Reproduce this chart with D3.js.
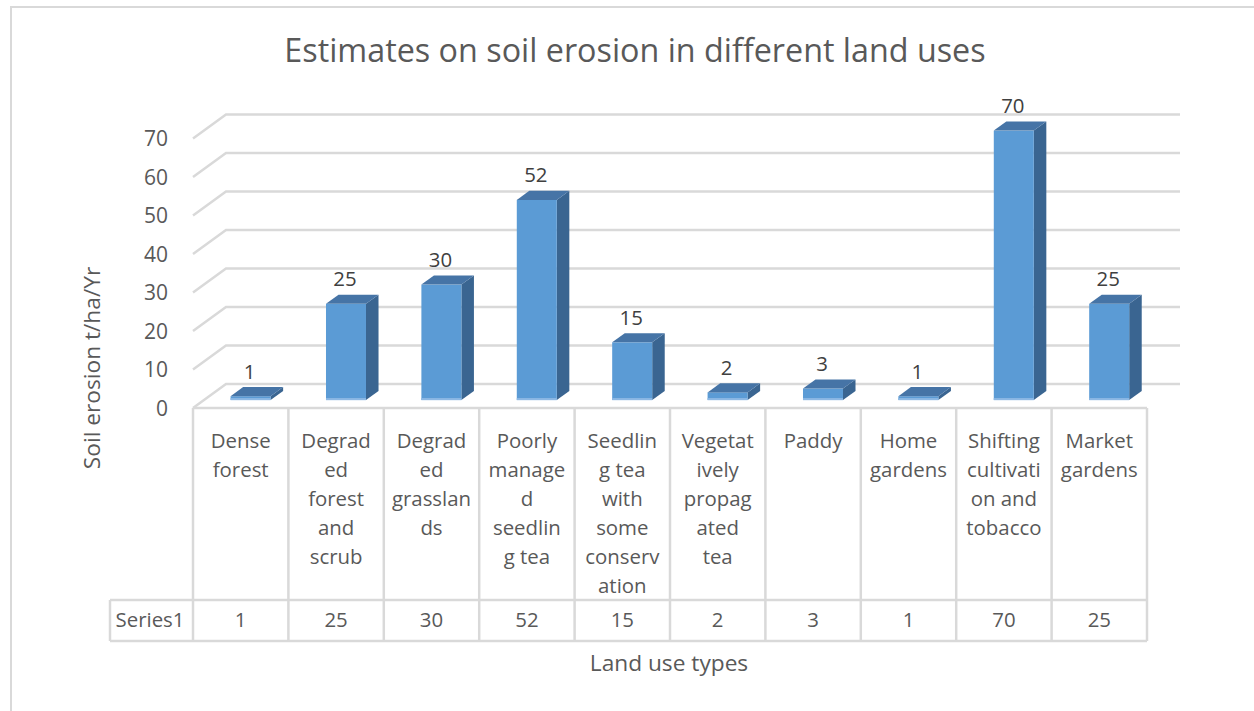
<!DOCTYPE html>
<html>
<head>
<meta charset="utf-8">
<script src="https://cdn.jsdelivr.net/npm/d3@7/dist/d3.min.js"></script>
<style>
  html, body { margin: 0; padding: 0; background: #ffffff; }
  svg { display: block; font-family: "Open Sans", "Noto Sans", sans-serif; }
</style>
</head>
<body>
<svg id="chart" width="1254" height="711"></svg>
<script>
// Land use categories, as wrapped in the data-table header cells
const categories = [
  "Dense forest",
  "Degraded forest and scrub",
  "Degraded grasslands",
  "Poorly managed seedling tea",
  "Seedling tea with some conservation",
  "Vegetatively propagated tea",
  "Paddy",
  "Home gardens",
  "Shifting cultivation and tobacco",
  "Market gardens"
];
const categoryLines = [
  ["Dense", "forest"],
  ["Degrad", "ed", "forest", "and", "scrub"],
  ["Degrad", "ed", "grasslan", "ds"],
  ["Poorly", "manage", "d", "seedlin", "g tea"],
  ["Seedlin", "g tea", "with", "some", "conserv", "ation"],
  ["Vegetat", "ively", "propag", "ated", "tea"],
  ["Paddy"],
  ["Home", "gardens"],
  ["Shifting", "cultivati", "on and", "tobacco"],
  ["Market", "gardens"]
];
// Soil erosion, t/ha/yr
const series1 = [1, 25, 30, 52, 15, 2, 3, 1, 70, 25];
const seriesName = "Series1";
const yTicks = [0, 10, 20, 30, 40, 50, 60, 70];

const chartTitle = "Estimates on soil erosion in different land uses";
const yTitle = "Soil erosion t/ha/Yr";
const xTitle = "Land use types";

const svg = d3.select("#chart");
const textColor = "#595959";
const lineColor = "#d9d9d9";

// plot geometry (front plane of the 3-D box)
const left = 193, right = 1147, floorY = 408;
const DX = 33, DY = -24;          // oblique offset for full depth
const z0 = 0.33, z1 = 0.71;       // bar depth span as fraction of box depth

const x = d3.scaleBand().domain(categories).range([left, right]).padding(0);
const y = d3.scaleLinear().domain([0, 70]).range([floorY, floorY - 269.5]);

// outer chart-area border
svg.append("rect")
  .attr("x", 11).attr("y", 7).attr("width", 1260).attr("height", 720)
  .attr("fill", "none").attr("stroke", lineColor).attr("stroke-width", 2);

// title
svg.append("text")
  .attr("x", 635).attr("y", 62)
  .attr("text-anchor", "middle")
  .attr("font-size", 32.3).attr("fill", textColor)
  .text(chartTitle);

// gridlines: slanted side-wall part and back-wall part
const grid = svg.append("g").attr("stroke", lineColor).attr("stroke-width", 2.5).attr("fill", "none");
yTicks.forEach(t => {
  const yf = y(t);
  grid.append("path")
    .attr("d", `M${left},${yf}L${left + DX},${yf + DY}L${right + DX},${yf + DY}`);
});

// tick labels
svg.append("g").selectAll("text").data(yTicks).join("text")
  .attr("x", 168).attr("y", d => y(d))
  .attr("dy", "0.36em")
  .attr("text-anchor", "end")
  .attr("font-size", 21).attr("fill", textColor)
  .text(d => d);

// bars as 3-D boxes
const barW = 40;
const ddx = DX * (z1 - z0), ddy = DY * (z1 - z0);
const bars = svg.append("g");
categories.forEach((c, i) => {
  const v = series1[i];
  const x0 = x(c) + x.bandwidth() / 2 - barW / 2 + DX * z0 - 1;
  const x1 = x0 + barW;
  const yb = y(0) + DY * z0;
  const yt = y(v) + DY * z0;
  const g = bars.append("g");
  // side face
  g.append("path")
    .attr("d", `M${x1},${yt}L${x1 + ddx},${yt + ddy}L${x1 + ddx},${yb + ddy}L${x1},${yb}Z`)
    .attr("fill", "#3a6591");
  // front face
  g.append("rect")
    .attr("x", x0).attr("y", yt).attr("width", barW).attr("height", yb - yt)
    .attr("fill", "#5b9bd5");
  // lighter base edge
  g.append("rect")
    .attr("x", x0).attr("y", yb - 2).attr("width", barW).attr("height", 2)
    .attr("fill", "#8db8e4");
  // top face
  g.append("path")
    .attr("d", `M${x0},${yt}L${x1},${yt}L${x1 + ddx},${yt + ddy}L${x0 + ddx},${yt + ddy}Z`)
    .attr("fill", "#4674a6");
  // value label
  g.append("text")
    .attr("x", x0 + barW / 2 - 1).attr("y", yt - 25)
    .attr("dy", "0.36em")
    .attr("text-anchor", "middle")
    .attr("font-size", 20.4).attr("fill", "#404040")
    .text(v);
});

// data table
const tableTop = floorY, headBottom = 600, tableBottom = 641, labelLeft = 110;
const tbl = svg.append("g").attr("stroke", lineColor).attr("stroke-width", 2.5).attr("fill", "none");
tbl.append("line").attr("x1", left).attr("x2", right).attr("y1", tableTop).attr("y2", tableTop);
tbl.append("line").attr("x1", labelLeft).attr("x2", right).attr("y1", headBottom).attr("y2", headBottom);
tbl.append("line").attr("x1", labelLeft).attr("x2", right).attr("y1", tableBottom).attr("y2", tableBottom);
tbl.append("line").attr("x1", labelLeft).attr("x2", labelLeft).attr("y1", headBottom).attr("y2", tableBottom);
categories.forEach(c => {
  tbl.append("line").attr("x1", x(c)).attr("x2", x(c)).attr("y1", tableTop).attr("y2", tableBottom);
});
tbl.append("line").attr("x1", right).attr("x2", right).attr("y1", tableTop).attr("y2", tableBottom);

// header cells
categories.forEach((c, i) => {
  const t = svg.append("text")
    .attr("text-anchor", "middle")
    .attr("font-size", 20.4).attr("fill", textColor);
  categoryLines[i].forEach((ln, k) => {
    t.append("tspan")
      .attr("x", x(c) + x.bandwidth() / 2)
      .attr("y", 441 + k * 29)
      .attr("dy", "0.36em")
      .text(ln);
  });
});

// series row
svg.append("text")
  .attr("x", 150).attr("y", 620).attr("dy", "0.36em")
  .attr("text-anchor", "middle")
  .attr("font-size", 20.4).attr("fill", textColor)
  .text(seriesName);
svg.append("g").selectAll("text").data(series1).join("text")
  .attr("x", (d, i) => x(categories[i]) + x.bandwidth() / 2)
  .attr("y", 620).attr("dy", "0.36em")
  .attr("text-anchor", "middle")
  .attr("font-size", 20.4).attr("fill", textColor)
  .text(d => d);

// axis titles
svg.append("text")
  .attr("transform", "translate(92,368) rotate(-90)")
  .attr("dy", "0.36em")
  .attr("text-anchor", "middle")
  .attr("font-size", 22.7).attr("fill", textColor)
  .text(yTitle);
svg.append("text")
  .attr("x", 669).attr("y", 663).attr("dy", "0.36em")
  .attr("text-anchor", "middle")
  .attr("font-size", 22.7).attr("fill", textColor)
  .text(xTitle);
</script>
</body>
</html>
